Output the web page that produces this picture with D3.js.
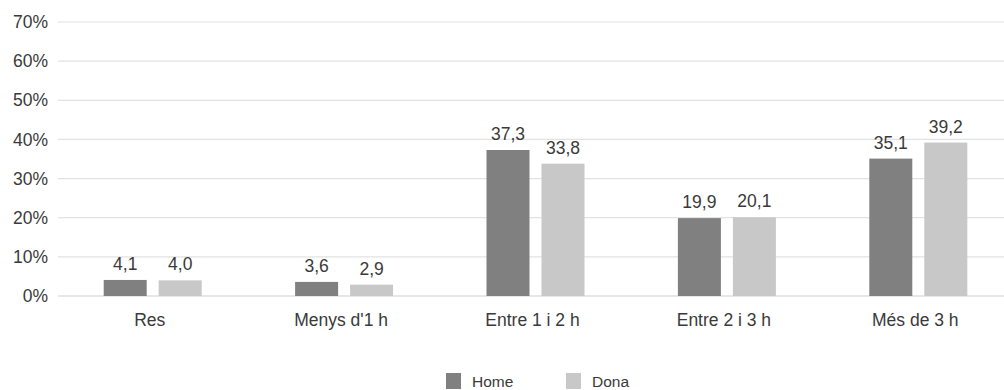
<!DOCTYPE html>
<html><head><meta charset="utf-8">
<script src="https://cdn.jsdelivr.net/npm/d3@7"></script>
<style>
html,body{margin:0;padding:0;background:#fff;}
text{font-family:"Liberation Sans",Helvetica,Arial,sans-serif;fill:#3a3a3a;}
</style></head>
<body><svg id="c" width="1004" height="390"></svg>
<script>
const categories = ["Res","Menys d'1 h","Entre 1 i 2 h","Entre 2 i 3 h","Més de 3 h"];
const seriesNames = ["Home","Dona"];
const home = [4.1,3.6,37.3,19.9,35.1];
const dona = [4.0,2.9,33.8,20.1,39.2];
const yTicks = [0,10,20,30,40,50,60,70];
const colors = ["#808080","#c8c8c8"];

const svg = d3.select("#c");
const x = d3.scaleBand().domain(categories).range([57,1014]);
const y = d3.scaleLinear().domain([0,70]).range([296,22]);
const fmt = v => v.toFixed(1).replace(".",",");

// grid
svg.append("g").selectAll("line").data(yTicks).join("line")
  .attr("x1",58).attr("x2",1004)
  .attr("y1",d=>y(d)).attr("y2",d=>y(d))
  .attr("stroke",d=>d===0?"#d0d0d0":"#e2e2e2").attr("stroke-width",1.2);

// y labels
svg.append("g").selectAll("text").data(yTicks).join("text")
  .attr("x",48).attr("y",d=>y(d)).attr("dy","0.35em")
  .attr("text-anchor","end").style("font-size","17.5px")
  .text(d=>d+"%");

const data = categories.map((c,i)=>({c, vals:[home[i],dona[i]]}));
const offs = [-49,6];
const bw = 43;
const g = svg.append("g");
data.forEach(d=>{
  const cx = x(d.c)+x.bandwidth()/2;
  d.vals.forEach((v,j)=>{
    g.append("rect").attr("x",cx+offs[j]).attr("width",bw)
      .attr("y",y(v)).attr("height",y(0)-y(v)).attr("fill",colors[j]);
    g.append("text").attr("x",cx+offs[j]+bw/2).attr("y",y(v)-10)
      .attr("text-anchor","middle").style("font-size","17.5px").text(fmt(v));
  });
  g.append("text").attr("x",cx-3).attr("y",326).attr("text-anchor","middle")
    .style("font-size","17.5px").text(d.c);
});

// legend
const lg = svg.append("g");
const lx = [446,566];
seriesNames.forEach((s,i)=>{
  lg.append("rect").attr("x",lx[i]).attr("y",373).attr("width",15).attr("height",16).attr("fill",colors[i]);
  lg.append("text").attr("x",lx[i]+26).attr("y",386.5).style("font-size","15.5px").text(s);
});
</script></body></html>
